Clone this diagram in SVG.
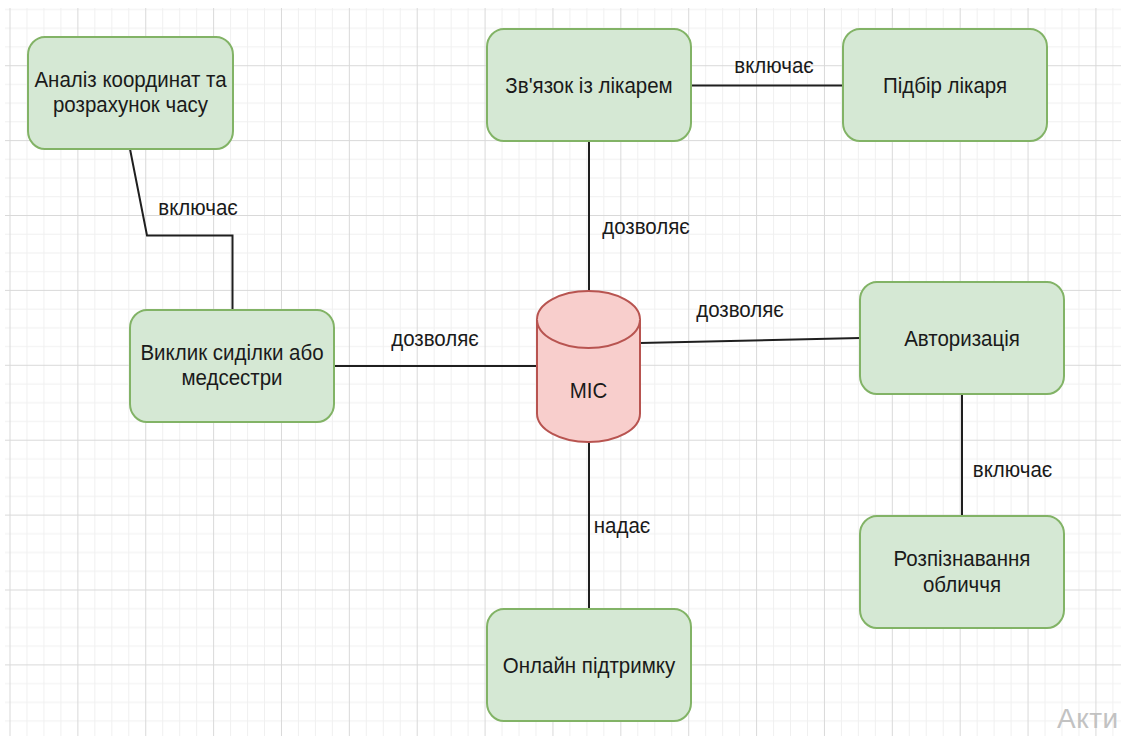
<svg xmlns="http://www.w3.org/2000/svg" width="1121" height="736" viewBox="0 0 1121 736">
  <defs>
    <!-- drawing-canvas grid: one major cell with 4x4 minor subdivisions -->
    <pattern id="grid" patternUnits="userSpaceOnUse" x="9.5" y="65.2" width="67.87" height="74.9">
      <g fill="#f0f0f0">
        <rect x="16.97" y="0" width="1" height="74.9"/>
        <rect x="33.94" y="0" width="1" height="74.9"/>
        <rect x="50.9" y="0" width="1" height="74.9"/>
        <rect x="0" y="18.72" width="67.87" height="1"/>
        <rect x="0" y="37.45" width="67.87" height="1"/>
        <rect x="0" y="56.17" width="67.87" height="1"/>
      </g>
      <g fill="#d9d9d9">
        <rect x="0" y="0" width="1" height="74.9"/>
        <rect x="0" y="0" width="67.87" height="1"/>
      </g>
    </pattern>
    <style>
      .box { fill: #d5e8d4; stroke: #82b366; stroke-width: 2; }
      .db { fill: #f8cecc; stroke: #b85450; stroke-width: 2; }
      .edge { fill: none; stroke: #1f1f1f; stroke-width: 2; }
      .t { font-family: "Liberation Sans", Arial, sans-serif; font-size: 20.5px; fill: #1a1a1a; text-anchor: middle; }
      .lbl { font-family: "Liberation Sans", Arial, sans-serif; font-size: 20.5px; fill: #1a1a1a; text-anchor: middle; }
      .wm { font-family: "Liberation Sans", Arial, sans-serif; font-size: 28px; letter-spacing: 0.5px; fill: #c2c2c2; }
    </style>
  </defs>

  <rect x="0" y="0" width="1121" height="736" fill="#ffffff"/>
  <rect x="5" y="8" width="1116" height="728" fill="url(#grid)"/>

  <!-- connectors with their labels -->
  <g id="connectors">
    <path class="edge" d="M130,149 L147,235.5 L232.5,235.5 L232.5,310"/>
    <text class="lbl" transform="translate(198,215) scale(1,1.1)">включає</text>

    <path class="edge" d="M334,366 L537,366"/>
    <text class="lbl" transform="translate(435,345.7) scale(1,1.1)">дозволяє</text>

    <path class="edge" d="M589,141 L589,291"/>
    <text class="lbl" transform="translate(646,234.3) scale(1,1.1)">дозволяє</text>

    <path class="edge" d="M691,85.5 L843,85.5"/>
    <text class="lbl" transform="translate(774,72.7) scale(1,1.1)">включає</text>

    <path class="edge" d="M640,343 L860,338"/>
    <text class="lbl" transform="translate(740,316.7) scale(1,1.1)">дозволяє</text>

    <path class="edge" d="M962,394 L962,516"/>
    <text class="lbl" transform="translate(1012.5,476.7) scale(1,1.1)">включає</text>

    <path class="edge" d="M589,442 L589,609"/>
    <text class="lbl" transform="translate(622,532.7) scale(1,1.1)">надає</text>
  </g>

  <g id="node-analysis">
    <rect class="box" x="28" y="37" width="205" height="112" rx="17" ry="18"/>
    <text class="t" transform="translate(130.5,87.3) scale(1,1.1)"><tspan x="0" y="0">Аналіз координат та</tspan><tspan x="0" y="22.4">розрахунок часу</tspan></text>
  </g>

  <g id="node-doctor-contact">
    <rect class="box" x="487" y="29" width="204" height="112" rx="17" ry="18"/>
    <text class="t" transform="translate(589,92.7) scale(1,1.1)">Зв'язок із лікарем</text>
  </g>

  <g id="node-doctor-select">
    <rect class="box" x="843" y="29" width="204" height="112" rx="17" ry="18"/>
    <text class="t" transform="translate(945,92.7) scale(1,1.1)">Підбір лікаря</text>
  </g>

  <g id="node-nurse-call">
    <rect class="box" x="130" y="310" width="204" height="112" rx="17" ry="18"/>
    <text class="t" transform="translate(232,360.3) scale(1,1.1)"><tspan x="0" y="0">Виклик сиділки або</tspan><tspan x="0" y="22.7">медсестри</tspan></text>
  </g>

  <g id="node-auth">
    <rect class="box" x="860" y="282" width="204" height="112" rx="17" ry="18"/>
    <text class="t" transform="translate(962,345.5) scale(1,1.1)">Авторизація</text>
  </g>

  <g id="node-face">
    <rect class="box" x="860" y="516" width="204" height="112" rx="17" ry="18"/>
    <text class="t" transform="translate(962,566) scale(1,1.1)"><tspan x="0" y="0">Розпізнавання</tspan><tspan x="0" y="23.2">обличчя</tspan></text>
  </g>

  <g id="node-support">
    <rect class="box" x="487" y="609" width="204" height="112" rx="17" ry="18"/>
    <text class="t" transform="translate(589,672.7) scale(1,1.1)">Онлайн підтримку</text>
  </g>

  <g id="node-mis">
    <path class="db" d="M537,319.5 A51.5,28.5 0 0 1 640,319.5 L640,413.5 A51.5,28.5 0 0 1 537,413.5 Z"/>
    <path class="db" fill="none" d="M537,319.5 A51.5,28.5 0 0 0 640,319.5"/>
    <text class="t" transform="translate(588.5,398.3) scale(1,1.1)">МІС</text>
  </g>

  <text class="wm" x="1057" y="728">Акти</text>
</svg>
